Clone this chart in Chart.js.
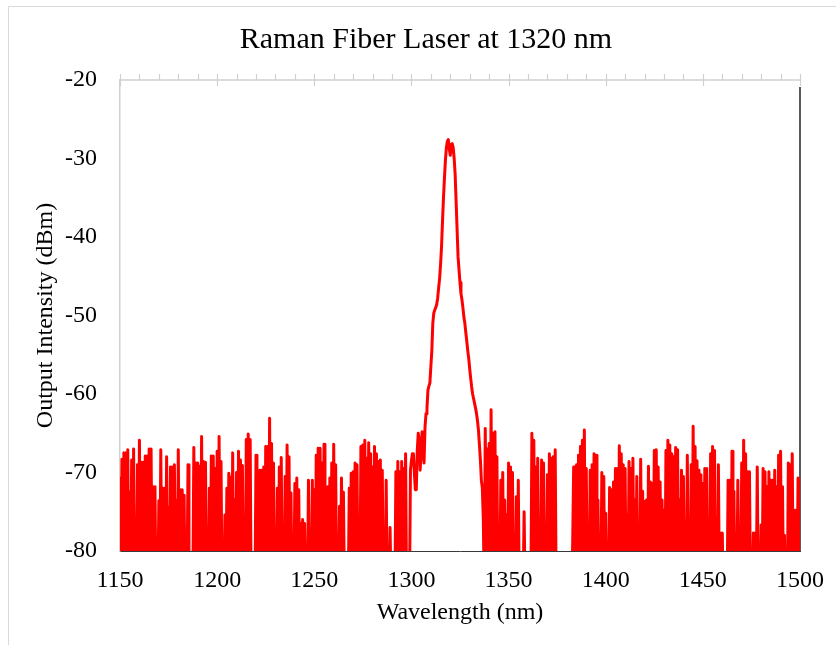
<!DOCTYPE html>
<html>
<head>
<meta charset="utf-8">
<script src="https://cdn.jsdelivr.net/npm/chart.js@4.4.0/dist/chart.umd.min.js"></script>
<style>
  html, body { margin: 0; padding: 0; background: #ffffff; }
  #wrap { width: 836px; height: 645px; position: relative; }
</style>
</head>
<body>
<div id="wrap"><canvas id="c"></canvas></div>
<script>
// ---------------- data ----------------
const chartTitle = 'Raman Fiber Laser at 1320 nm';
const xAxisTitle = 'Wavelength (nm)';
const yAxisTitle = 'Output Intensity (dBm)';
const xTickValues = [1150, 1200, 1250, 1300, 1350, 1400, 1450, 1500];
const xMinorTickStep = 10;
const yTickValues = [-80, -70, -60, -50, -40, -30, -20];
const wavelengthStartNm = 1150;
const wavelengthStepNm = 0.5;
// output intensity (dBm), one sample every 0.5 nm from 1150 nm to 1500 nm
// (values at -85 are below the -80 dBm display floor)
const outputDbm = [
  -70.7,-85, -68.3,-85, -67.5,-85, -67.5,-85, -67.1,-85, -72.5,-85, -68.4,-85, -67.0,-85, -85,-85, -69.0,-85,
  -65.9,-85, -68.7,-85, -68.7,-85, -67.9,-85, -67.9,-85, -67.0,-85, -67.0,-85, -71.8,-85, -71.8,-85, -85,-85,
  -73.6,-85, -67.1,-85, -72.0,-85, -72.0,-85, -68.0,-85, -74.5,-85, -69.3,-85, -69.3,-85, -69.0,-85, -73.6,-85,
  -67.1,-85, -72.2,-85, -72.2,-85, -72.9,-85, -85,-85, -69.0,-85, -85,-85, -85,-85, -66.8,-85, -68.8,-85,
  -68.8,-85, -69.2,-85, -65.4,-85, -68.6,-85, -68.7,-85, -85,-85, -72.0,-85, -67.9,-85, -67.9,-85, -69.5,-85,
  -67.3,-85, -65.4,-85, -68.6,-85, -85,-85, -75.4,-85, -72.0,-85, -70.1,-85, -70.6,-85, -67.5,-85, -73.5,-85,
  -70.0,-85, -67.3,-85, -68.4,-85, -69.1,-85, -85,-85, -65.8,-85, -65.1,-85, -65.8,-85, -85,-85, -85,-85,
  -67.8,-85, -85,-85, -69.7,-85, -69.7,-85, -69.3,-85, -66.7,-85, -66.7,-85, -63.1,-85, -66.3,-85, -68.8,-85,
  -85,-85, -72.0,-85, -69.3,-85, -68.1,-85, -85,-85, -70.5,-85, -66.5,-85, -68.0,-85, -72.6,-85, -85,-85,
  -71.4,-85, -70.7,-85, -72.2,-85, -76.5,-85, -76.0,-85, -76.5,-85, -85,-85, -71.0,-85, -85,-85, -71.0,-85,
  -72.2,-85, -67.8,-85, -66.9,-85, -66.9,-85, -68.8,-85, -66.4,-85, -85,-85, -71.8,-85, -70.7,-85, -68.8,-85,
  -66.4,-85, -69.0,-85, -85,-85, -74.3,-85, -70.7,-85, -72.5,-85, -85,-85, -85,-85, -72.0,-85, -70.1,-85,
  -69.9,-85, -68.8,-85, -69.0,-85, -85,-85, -66.7,-85, -66.5,-85, -65.9,-85, -68.2,-85, -66.2,-85, -67.6,-85,
  -69.3,-85, -66.7,-85, -67.6,-85, -68.6,-85, -68.4,-85, -69.7,-85, -85,-85, -71.0,-85, -85,-85, -77.0,-85,
  -85,-85, -85,-85, -69.9,-85, -68.6,-85, -69.9,-85, -68.6,-85, -69.5,-85, -67.6,-85, -85,-85, -85,-69.7,
  -68.5,-67.6, -67.6,-70.0, -72.2,-72.2, -67.2,-65.0, -66.0,-69.7, -67.0,-64.8, -67.5,-68.8, -64.2,-62.5, -61.8,-59.5, -59.0,-58.6,
  -56.5,-54.5, -51.0,-49.7, -49.3,-49.0, -48.6,-47.8, -46.5,-45.3, -43.5,-41.2, -38.0,-35.0, -32.5,-30.2, -28.6,-27.8, -27.6,-28.8,
  -29.6,-28.2, -28.1,-28.6, -30.0,-32.0, -35.5,-39.0, -42.5,-44.2, -45.8,-47.2, -48.0,-49.0, -50.2,-51.0, -52.2,-53.3, -54.5,-55.5,
  -56.8,-58.0, -59.1,-60.0, -60.6,-61.2, -61.8,-62.5, -63.4,-64.6, -66.5,-68.4, -71.0,-72.0, -76.0,-85, -64.4,-85, -67.0,-85,
  -66.3,-85, -62.0,-85, -65.0,-85, -64.8,-85, -68.0,-85, -85,-85, -71.0,-85, -70.0,-85, -73.5,-85, -75.4,-85,
  -68.8,-85, -69.3,-85, -70.0,-85, -85,-85, -73.1,-85, -71.0,-85, -85,-85, -85,-85, -75.0,-85, -85,-85,
  -85,-85, -85,-85, -65.0,-85, -65.9,-85, -69.3,-85, -68.2,-85, -85,-85, -68.4,-85, -68.8,-85, -85,-85,
  -70.3,-85, -67.6,-85, -68.2,-85, -68.0,-85, -67.1,-85, -85,-85, -85,-85, -85,-85, -85,-85, -85,-85,
  -85,-85, -85,-85, -85,-85, -79.0,-69.3, -69.3,-85, -69.0,-85, -67.8,-85, -66.7,-85, -65.9,-85, -64.6,-85,
  -69.5,-85, -85,-85, -69.7,-85, -69.0,-85, -67.6,-85, -67.8,-85, -73.5,-85, -85,-85, -70.0,-85, -70.5,-85,
  -75.2,-85, -85,-85, -71.9,-85, -72.2,-85, -71.2,-85, -69.5,-85, -69.5,-85, -66.6,-85, -67.6,-85, -69.0,-85,
  -69.5,-85, -75.4,-85, -68.6,-85, -69.5,-85, -68.2,-85, -73.5,-85, -70.5,-85, -85,-85, -68.3,-85, -72.4,-85,
  -73.7,-85, -73.5,-85, -69.2,-85, -71.2,-85, -71.4,-85, -67.2,-85, -67.1,-85, -69.3,-85, -71.2,-85, -73.5,-85,
  -74.8,-85, -67.2,-85, -65.9,-85, -66.5,-85, -67.6,-85, -68.0,-85, -66.8,-85, -67.1,-85, -73.5,-85, -69.7,-85,
  -70.5,-85, -85,-85, -67.8,-85, -85,-85, -69.0,-85, -64.1,-85, -66.7,-85, -68.5,-85, -69.7,-85, -70.3,-85,
  -71.4,-85, -69.5,-85, -69.5,-85, -85,-85, -67.6,-85, -66.7,-85, -67.2,-85, -85,-85, -69.0,-85, -77.7,-85,
  -77.7,-85, -85,-85, -85,-85, -71.0,-85, -71.0,-85, -67.3,-85, -72.4,-85, -85,-85, -71.0,-85, -85,-85,
  -68.8,-85, -65.9,-85, -67.6,-85, -69.9,-85, -69.9,-85, -85,-85, -77.7,-85, -77.7,-85, -69.3,-85, -85,-85,
  -76.7,-85, -69.5,-85, -69.9,-85, -71.8,-85, -69.9,-85, -71.0,-85, -71.0,-85, -69.7,-85, -71.8,-85, -67.8,-85,
  -67.3,-85, -71.8,-85, -78.0,-85, -85,-85, -68.8,-85, -69.0,-85, -67.6,-85, -74.8,-85, -74.8,-85, -70.7,-85,
  -70.7
];
const wavelengthNm = outputDbm.map((_, i) => wavelengthStartNm + i * wavelengthStepNm);

// ---------------- chart ----------------
const FONT = "'Liberation Serif', 'Times New Roman', 'DejaVu Serif', serif";

const decorPlugin = {
  id: 'decor',
  beforeDraw(chart) {
    const ctx = chart.ctx;
    ctx.save();
    ctx.strokeStyle = '#d9d9d9';
    ctx.lineWidth = 1;
    ctx.beginPath();
    ctx.moveTo(8.5, chart.height + 5);
    ctx.lineTo(8.5, 6.5);
    ctx.lineTo(chart.width + 5, 6.5);
    ctx.stroke();
    ctx.restore();
  },
  beforeDatasetsDraw(chart) {
    const ctx = chart.ctx;
    const a = chart.chartArea;
    const xs = chart.scales.x;
    ctx.save();
    // top axis with minor / major tick marks
    ctx.strokeStyle = '#d0d0d0';
    ctx.lineWidth = 1.5;
    ctx.beginPath();
    ctx.moveTo(a.left, a.top);
    ctx.lineTo(a.right, a.top);
    ctx.stroke();
    ctx.lineWidth = 1.2;
    const first = xTickValues[0], last = xTickValues[xTickValues.length - 1];
    for (let v = first; v <= last; v += xMinorTickStep) {
      const px = Math.round(xs.getPixelForValue(v)) + 0.5;
      const major = xTickValues.includes(v);
      ctx.beginPath();
      ctx.moveTo(px, a.top - 6);
      ctx.lineTo(px, major ? a.top + 6 : a.top);
      ctx.stroke();
    }
    // right frame line
    ctx.strokeStyle = '#303030';
    ctx.lineWidth = 1.6;
    ctx.beginPath();
    ctx.moveTo(a.right, a.top + 7);
    ctx.lineTo(a.right, a.bottom);
    ctx.stroke();
    ctx.restore();
  }
};

new Chart(document.getElementById('c'), {
  type: 'line',
  data: {
    datasets: [{
      data: wavelengthNm.map((x, i) => ({ x: x, y: outputDbm[i] })),
      borderColor: '#ff0000',
      borderWidth: 3,
      borderJoinStyle: 'round',
      pointRadius: 0,
      tension: 0,
      fill: false,
      clip: 0
    }]
  },
  options: {
    responsive: true,
    maintainAspectRatio: false,
    animation: false,
    events: [],
    layout: { padding: { left: 52, right: 36, top: 0, bottom: 0 } },
    plugins: {
      legend: { display: false },
      tooltip: { enabled: false },
      title: {
        display: true,
        text: chartTitle,
        color: '#000000',
        font: { family: FONT, size: 30, weight: 'normal', lineHeight: 1.2 },
        padding: { top: 22, bottom: 22 }
      }
    },
    scales: {
      x: {
        type: 'linear',
        position: 'bottom',
        min: xTickValues[0],
        max: xTickValues[xTickValues.length - 1],
        afterBuildTicks: (s) => { s.ticks = xTickValues.map(v => ({ value: v })); },
        afterFit: (s) => { s.height = 94; s.paddingLeft = 0; s.paddingRight = 0; },
        ticks: {
          color: '#000000',
          font: { family: FONT, size: 24, lineHeight: 1.2 },
          padding: 15,
          maxRotation: 0,
          autoSkip: false,
          callback: (v) => String(v)
        },
        grid: { display: false, drawTicks: false },
        border: { display: true, color: '#3a3a3a', width: 1 },
        title: {
          display: true,
          text: xAxisTitle,
          color: '#000000',
          font: { family: FONT, size: 24, lineHeight: 1.2 },
          padding: { top: 0, bottom: 17.6 }
        }
      },
      y: {
        type: 'linear',
        min: yTickValues[0],
        max: yTickValues[yTickValues.length - 1],
        afterBuildTicks: (s) => { s.ticks = yTickValues.map(v => ({ value: v })); },
        afterFit: (s) => { s.width = 68; s.paddingTop = 0; s.paddingBottom = 0; },
        ticks: {
          color: '#000000',
          font: { family: FONT, size: 24, lineHeight: 1.2 },
          padding: 23,
          callback: (v) => String(v)
        },
        grid: { display: false, drawTicks: false },
        border: { display: true, color: '#d0d0d0', width: 1.5 },
        title: {
          display: true,
          text: yAxisTitle,
          color: '#000000',
          font: { family: FONT, size: 24, lineHeight: 1.2 },
          padding: { top: -20.4, bottom: 0 }
        }
      }
    }
  },
  plugins: [decorPlugin]
});
</script>
</body>
</html>
